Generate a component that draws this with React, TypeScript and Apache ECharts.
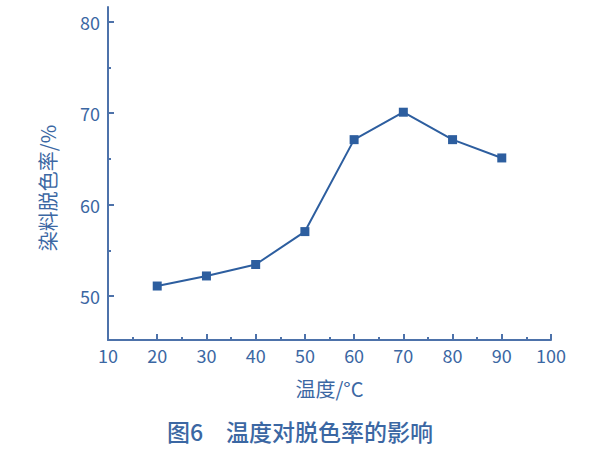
import React, { useEffect, useRef } from "react";
import * as echarts from "echarts";

const temps = [20, 30, 40, 50, 60, 70, 80, 90];
const rates = [51.1, 52.2, 53.45, 57.05, 67.1, 70.1, 67.1, 65.1];
const yMajor = [50, 60, 70, 80];
const yMinor = [55, 65, 75];
const xName = "温度/°C";
const yName = "染料脱色率/%";
const caption = "图6\u3000温度对脱色率的影响";

const AXIS = "#4d72aa";
const TEXT = "#3b67a3";
const SERIES = "#2d5e9f";
const FONT = "'Noto Sans CJK SC', 'Noto Sans', sans-serif";

export default function App() {
  const ref = useRef<HTMLDivElement>(null);
  useEffect(() => {
    if (!ref.current) return;
    const chart = echarts.init(ref.current, null, { renderer: "svg" });
    const yBase = {
      type: "value",
      min: 45.2,
      max: 81.6,
      splitLine: { show: false },
    };
    chart.setOption({
      animation: false,
      grid: { left: 108, right: 49, top: 7, bottom: 110, containLabel: false },
      title: {
        text: caption,
        left: "center",
        top: 414,
        textStyle: { color: TEXT, fontSize: 23, fontWeight: 500, fontFamily: FONT },
      },
      graphic: [
        {
          type: "text",
          x: 47,
          y: 188,
          rotation: Math.PI / 2,
          style: {
            text: yName,
            fill: TEXT,
            font: `20px ${FONT}`,
            align: "center",
            verticalAlign: "middle",
          },
        },
      ],
      xAxis: {
        type: "value",
        min: 10,
        max: 100,
        interval: 10,
        name: xName,
        nameLocation: "middle",
        nameGap: 38,
        nameTextStyle: { color: TEXT, fontSize: 20, fontFamily: FONT },
        axisLine: { lineStyle: { color: AXIS, width: 2 } },
        axisTick: { inside: true, length: 6, lineStyle: { color: AXIS, width: 2 } },
        minorTick: { show: true, splitNumber: 2, length: 3, lineStyle: { color: AXIS, width: 2 } },
        axisLabel: { color: TEXT, fontSize: 18, fontFamily: FONT, margin: 6 },
        splitLine: { show: false },
      },
      yAxis: [
        {
          ...yBase,
          axisLine: { show: true, lineStyle: { color: AXIS, width: 2 } },
          axisTick: { show: true, inside: true, length: 6, customValues: yMajor, lineStyle: { color: AXIS, width: 2 } },
          axisLabel: { color: TEXT, fontSize: 18, fontFamily: FONT, margin: 8, customValues: yMajor },
        },
        {
          ...yBase,
          position: "left",
          axisLine: { show: false },
          axisTick: { show: true, inside: true, length: 3, customValues: yMinor, lineStyle: { color: AXIS, width: 2 } },
          axisLabel: { show: false },
        },
      ],
      series: [
        {
          type: "line",
          data: temps.map((t, i) => [t, rates[i]]),
          symbol: "rect",
          symbolSize: 9,
          itemStyle: { color: SERIES },
          lineStyle: { color: SERIES, width: 2 },
        },
      ],
    });
    return () => chart.dispose();
  }, []);
  return (
    <div
      ref={ref}
      style={{ position: "absolute", left: 0, top: 0, width: 600, height: 450 }}
    />
  );
}
